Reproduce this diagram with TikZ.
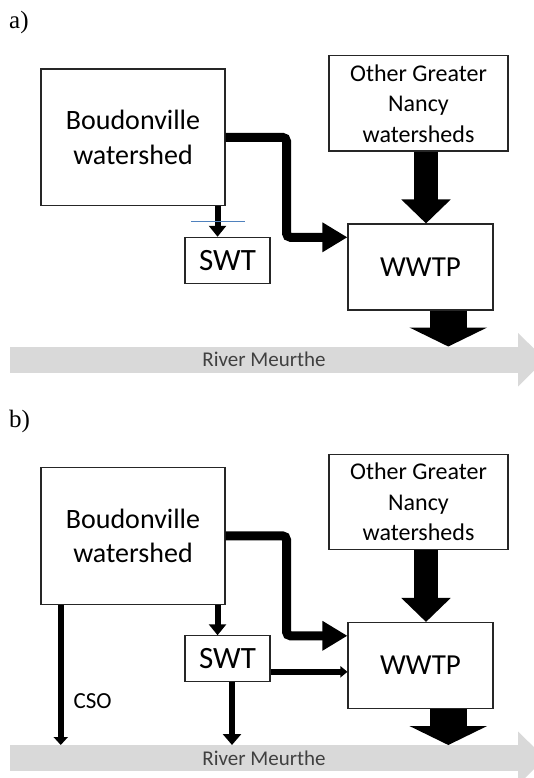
\documentclass[tikz,border=0pt]{standalone}
\usepackage{fontspec}
\setmainfont{Carlito}
\newfontfamily\labelserif{Liberation Serif}
\usetikzlibrary{arrows.meta,calc}
\definecolor{riverc}{RGB}{217,217,217}
\definecolor{rivertext}{RGB}{64,64,64}
\definecolor{cutblue}{RGB}{79,129,189}
\tikzset{
  box/.style={draw=black!85, line width=1.1pt, fill=white, inner sep=0pt, align=center},
  bigtext/.style={font=\fontsize{28}{34.5}\selectfont},
  othertext/.style={font=\fontsize{24}{30.5}\selectfont},
  riverband/.style={fill=riverc, inner sep=0pt, minimum width=508pt, minimum height=26pt,
     text=rivertext, font=\fontsize{21}{25}\selectfont},
  flowA/.style={line width=6pt, -{Triangle[width=17pt,length=11pt]}},
  elbow/.style={line width=9pt, rounded corners=4pt, -{Triangle[width=28pt,length=25pt]}},
  blockin/.style={line width=24pt, -{Triangle[width=48pt,length=24pt]}},
  blockout/.style={line width=37pt, -{Triangle[width=77pt,length=19pt]}},
  flowS/.style={line width=5.5pt, -{Triangle[width=11pt,length=7pt]}},
  flowR/.style={line width=6.5pt, -{Triangle[width=18pt,length=11pt]}},
  flowC/.style={line width=6pt, -{Triangle[width=14pt,length=8pt]}},
  panel/.style={font=\labelserif\fontsize{25}{29}\selectfont, anchor=base west, inner sep=0pt},
  cutline/.style={draw=cutblue, line width=1.6pt}
}
\begin{document}
\begin{tikzpicture}[x=1pt,y=-1pt]
\clip (0,0) rectangle (534,778);
\fill[white] (0,0) rectangle (534,778);

% ---------- panel a ----------
\node[panel] (la) at (9,29) {a)};
\node[box, bigtext, minimum width=184pt, minimum height=136.7pt] (boudA) at (133,137.35) {Boudonville\\watershed};
\node[box, othertext, minimum width=179pt, minimum height=95.3pt] (otherA) at (418.5,103.35) {Other Greater\\Nancy\\watersheds};
\node[box, font=\fontsize{29}{34}\selectfont, minimum width=145pt, minimum height=86pt] (wwtpA) at (420.5,267) {WWTP};
\node[box, font=\fontsize{31}{36}\selectfont, minimum width=85pt, minimum height=46pt] (swtA) at (227.5,260.3) {SWT};
\node[riverband] (riverA) at (264,359.7) {River Meurthe};
\fill[riverc] ([yshift=13.4pt]riverA.north east) -- ([xshift=27pt]riverA.east) -- ([yshift=-13.4pt]riverA.south east) -- cycle;

\coordinate (elbA) at (286.5,0);
\coordinate (einA) at ([yshift=29.7pt]wwtpA.west);
\draw[elbow] (boudA.east) -| (elbA |- einA) -- (einA);
\draw[flowA] ([xshift=-8pt]boudA.south east) -- ([xshift=-8pt]boudA.south east |- swtA.north);
\draw[blockin] ([xshift=7.5pt]otherA.south) -- ([xshift=7.5pt]otherA.south |- wwtpA.north);
\draw[blockout] ([xshift=27.8pt]wwtpA.south) -- ([xshift=27.8pt]wwtpA.south |- riverA.north);
\draw[cutline] (191,221.5) -- (245,221.5);

% ---------- panel b ----------
\begin{scope}[shift={(0,398.5)}]
\node[panel] (lb) at (9,29) {b)};
\node[box, bigtext, minimum width=184pt, minimum height=136.7pt] (boudB) at (133,137.35) {Boudonville\\watershed};
\node[box, othertext, minimum width=179pt, minimum height=95.3pt] (otherB) at (418.5,103.35) {Other Greater\\Nancy\\watersheds};
\node[box, font=\fontsize{29}{34}\selectfont, minimum width=145pt, minimum height=86pt] (wwtpB) at (420.5,267) {WWTP};
\node[box, font=\fontsize{31}{36}\selectfont, minimum width=85pt, minimum height=46pt] (swtB) at (227.5,260.3) {SWT};
\node[riverband] (riverB) at (264,359.7) {River Meurthe};
\fill[riverc] ([yshift=13.4pt]riverB.north east) -- ([xshift=27pt]riverB.east) -- ([yshift=-13.4pt]riverB.south east) -- cycle;

\coordinate (elbB) at (286.5,0);
\coordinate (einB) at ([yshift=29.7pt]wwtpB.west);
\draw[elbow] (boudB.east) -| (elbB |- einB) -- (einB);
\draw[flowA] ([xshift=-8pt]boudB.south east) -- ([xshift=-8pt]boudB.south east |- swtB.north);
\draw[blockin] ([xshift=7.5pt]otherB.south) -- ([xshift=7.5pt]otherB.south |- wwtpB.north);
\draw[blockout] ([xshift=27.8pt]wwtpB.south) -- ([xshift=27.8pt]wwtpB.south |- riverB.north);
\coordinate (soutB) at ([yshift=-13pt]swtB.east);
\draw[flowS] (soutB) -- (soutB -| wwtpB.west);
\draw[flowR] ([xshift=4.5pt]swtB.south) -- ([xshift=4.5pt]swtB.south |- riverB.north);
\draw[flowC] ([xshift=20.3pt]boudB.south west) -- ([xshift=20.3pt]boudB.south west |- riverB.north);
\node[font=\fontsize{23}{27}\selectfont, anchor=base, inner sep=0pt] (cso) at (92.7,309.5) {CSO};
\end{scope}
\end{tikzpicture}
\end{document}
